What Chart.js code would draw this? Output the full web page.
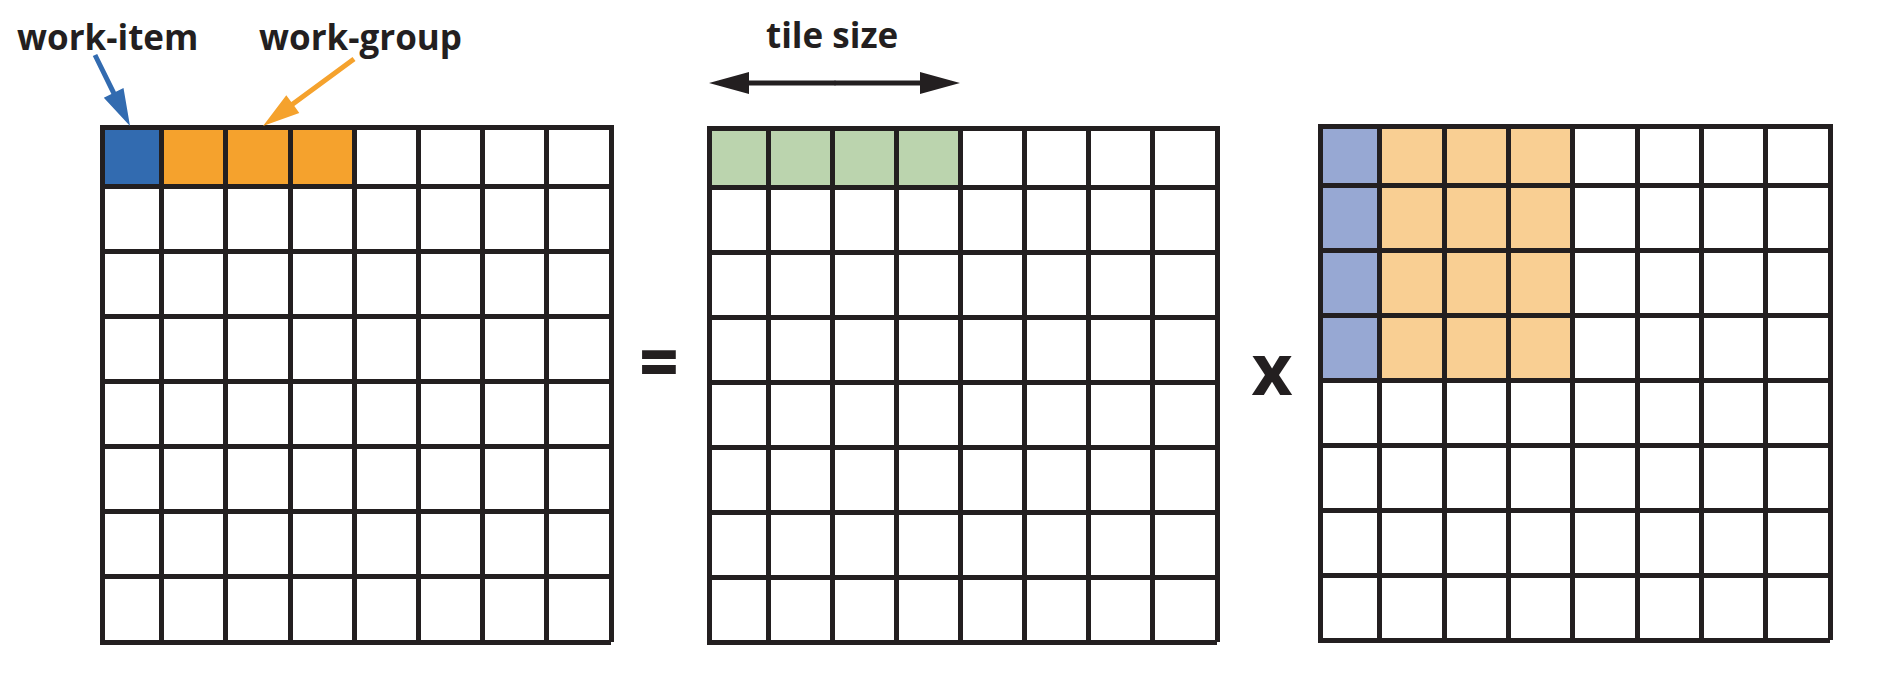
<!DOCTYPE html>
<html>
<head>
<meta charset="utf-8">
<title>work-item / work-group tiling</title>
<script src="https://cdn.jsdelivr.net/npm/chart.js@4.4.1/dist/chart.umd.min.js"></script>
<style>
  html, body { margin: 0; padding: 0; background: #fff; }
  #page { position: relative; width: 1881px; height: 675px; overflow: hidden; }
  canvas { position: absolute; }
  .label {
    position: absolute;
    font-family: "Open Sans", sans-serif;
    font-weight: 700;
    color: #231f20;
    line-height: 1;
    white-space: nowrap;
  }
  #arrows { position: absolute; left: 0; top: 0; pointer-events: none; }
</style>
</head>
<body>
<div id="page">
  <canvas id="gridC" width="525" height="531" style="left:94px; top:119px"></canvas>
  <canvas id="gridA" width="524" height="530" style="left:701px; top:120px"></canvas>
  <canvas id="gridB" width="526" height="530" style="left:1312px; top:118px"></canvas>

  <div class="label" style="left:17px; top:19px; font-size:35px">work-item</div>
  <div class="label" style="left:259px; top:19px; font-size:35px">work-group</div>
  <div class="label" style="left:766px; top:17px; font-size:35px">tile size</div>
  <div class="label" style="left:629px; top:326px; width:60px; text-align:center; font-size:68px; font-weight:800">=</div>
  <div class="label" style="left:1242px; top:332px; width:60px; text-align:center; font-size:71px">x</div>

  <svg id="arrows" width="1881" height="675"></svg>
</div>

<script>
// grid is 8 x 8 cells, lines sit between cells and on the far edges
const columns = [1, 2, 3, 4, 5, 6, 7, 8];
const rows = [1, 2, 3, 4, 5, 6, 7, 8];

// highlighted cells as [column, row], counted from the top-left corner
const workItemCells = [[0, 0]];
const workGroupCells = [[1, 0], [2, 0], [3, 0]];
const tileRowCells = [[0, 0], [1, 0], [2, 0], [3, 0]];
const tileColumnCells = [[0, 0], [0, 1], [0, 2], [0, 3]];
const tileBlockCells = [
    [1, 0], [2, 0], [3, 0],
    [1, 1], [2, 1], [3, 1],
    [1, 2], [2, 2], [3, 2],
    [1, 3], [2, 3], [3, 3]
];

const LINE = '#231f20';
const COLORS = {
    workItem: '#326bb0',
    workGroup: '#f5a22d',
    tileRow: '#bbd4ae',
    tileColumn: '#97a8d3',
    tileBlock: '#f9cf93'
};

// one floating bar per cell, spanning [row, row + 1]
function cellDataset(cells, color) {
    return {
        data: cells.map(([c, r]) => ({ x: c + 0.5, y: [r, r + 1] })),
        backgroundColor: color,
        borderWidth: 0,
        barPercentage: 1,
        categoryPercentage: 1,
        grouped: false,
        clip: 0
    };
}

function lineTicks(values) {
    return scale => { scale.ticks = values.map(v => ({ value: v })); };
}

function gridScale(values, extra) {
    return Object.assign({
        type: 'linear',
        max: 8,
        offset: false,
        grid: { color: LINE, lineWidth: 5, drawTicks: false, offset: false, z: 1 },
        border: { display: true, color: LINE, width: 5, z: 1 },
        ticks: { display: false },
        afterBuildTicks: lineTicks(values)
    }, extra);
}

function makeGrid(canvasId, datasets) {
    return new Chart(document.getElementById(canvasId), {
        type: 'bar',
        data: { datasets: datasets },
        options: {
            responsive: false,
            animation: false,
            events: [],
            layout: { padding: 8, autoPadding: false },
            plugins: {
                legend: { display: false },
                tooltip: { enabled: false }
            },
            scales: {
                // outer top/left edge is drawn a little inside the first cell
                x: gridScale(columns, { position: 'top', min: 0.07 }),
                y: gridScale(rows, { position: 'left', min: 0.08, reverse: true })
            }
        }
    });
}

makeGrid('gridC', [
    cellDataset(workItemCells, COLORS.workItem),
    cellDataset(workGroupCells, COLORS.workGroup)
]);
makeGrid('gridA', [
    cellDataset(tileRowCells, COLORS.tileRow)
]);
makeGrid('gridB', [
    cellDataset(tileColumnCells, COLORS.tileColumn),
    cellDataset(tileBlockCells, COLORS.tileBlock)
]);

// annotation arrows
const svg = document.getElementById('arrows');
const NS = 'http://www.w3.org/2000/svg';

function arrowPoints(x1, y1, x2, y2, shaft, headLen, headHalf) {
    const len = Math.hypot(x2 - x1, y2 - y1);
    const ux = (x2 - x1) / len, uy = (y2 - y1) / len;
    const nx = -uy, ny = ux;
    const bx = x2 - ux * headLen, by = y2 - uy * headLen;
    const s = shaft / 2;
    const pts = [
        [x1 + nx * s, y1 + ny * s],
        [bx + nx * s, by + ny * s],
        [bx + nx * headHalf, by + ny * headHalf],
        [x2, y2],
        [bx - nx * headHalf, by - ny * headHalf],
        [bx - nx * s, by - ny * s],
        [x1 - nx * s, y1 - ny * s]
    ];
    return pts.map(p => p[0].toFixed(1) + ',' + p[1].toFixed(1)).join(' ');
}

function addPolygon(points, color) {
    const poly = document.createElementNS(NS, 'polygon');
    poly.setAttribute('points', points);
    poly.setAttribute('fill', color);
    svg.appendChild(poly);
}

addPolygon(arrowPoints(95, 55, 130, 126, 5, 37, 11), COLORS.workItem);
addPolygon(arrowPoints(354, 59, 263, 126, 5, 37, 11), COLORS.workGroup);

// double headed "tile size" arrow
const midX = (709 + 960) / 2;
addPolygon(arrowPoints(midX, 83, 960, 83, 5, 40, 11), LINE);
addPolygon(arrowPoints(midX + 1, 83, 709, 83, 5, 40, 11), LINE);
</script>
</body>
</html>
